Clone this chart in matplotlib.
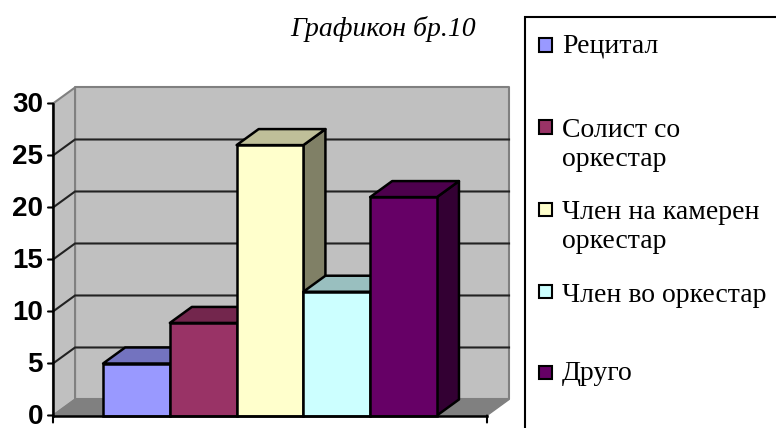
import matplotlib
matplotlib.use('Agg')
import matplotlib.pyplot as plt
from matplotlib.patches import Polygon, Rectangle

# Податоци од графиконот
naslov = 'Графикон бр.10'
kategorii = ['Рецитал', 'Солист со\nоркестар', 'Член на камерен\nоркестар', 'Член во оркестар', 'Друго']
vrednosti = [5, 8.9, 26, 11.9, 21]
y_tikovi = [0, 5, 10, 15, 20, 25, 30]
boi = ['#9999FF', '#993366', '#FFFFCC', '#CCFFFF', '#660066']
boi_gore = ['#7373BF', '#73264D', '#BFBF99', '#99BFBF', '#4D004D']
boi_strana = ['#4D4D80', '#4D1A33', '#808066', '#668080', '#330033']

W, H = 776, 428
fig = plt.figure(figsize=(W / 100, H / 100), dpi=100)
ax = fig.add_axes([53 / W, (H - 415.5) / H, 434 / W, 312 / H])
ax.set_xlim(-1.25, 5.25)
ax.set_ylim(0, 30)
ax.axis('off')

# dlabocina na 3D izgledot vo edinici na oskite
dx, dy = 0.33, 1.54
x0, x1 = ax.get_xlim()
y0, y1 = ax.get_ylim()


def poly(tocki, boja, rab='black', lw=1.8, z=2):
    ax.add_patch(Polygon(tocki, closed=True, facecolor=boja, edgecolor=rab, linewidth=lw,
                         zorder=z, clip_on=False, joinstyle='round'))


# zadni yidovi i pod
poly([(x0 + dx, y0 + dy), (x1 + dx, y0 + dy), (x1 + dx, y1 + dy), (x0 + dx, y1 + dy)], '#C0C0C0', '#808080', 1.5, 1)
poly([(x0, y0), (x0 + dx, y0 + dy), (x0 + dx, y1 + dy), (x0, y1)], '#C0C0C0', '#808080', 1.5, 1)
poly([(x0, y0), (x1, y0), (x1 + dx, y0 + dy), (x0 + dx, y0 + dy)], '#808080', '#808080', 1, 1)

# mreza
for t in y_tikovi[1:-1]:
    ax.plot([x0, x0 + dx, x1 + dx], [t, t + dy, t + dy], color='#222222', lw=1.5, zorder=1.5,
            clip_on=False, solid_joinstyle='miter')

# stolbovi, od levo kon desno
sirina = 1.0
for i, v in enumerate(vrednosti):
    l, r = i - sirina / 2, i + sirina / 2
    z = 3 + i
    poly([(r, 0), (r + dx, dy), (r + dx, v + dy), (r, v)], boi_strana[i], z=z)
    poly([(l, v), (r, v), (r + dx, v + dy), (l + dx, v + dy)], boi_gore[i], z=z)
    ax.bar(i, v, width=sirina, color=boi[i], edgecolor='black', linewidth=1.8, zorder=z, clip_on=False)

# oski
ax.plot([x0, x0], [y0, y1], color='black', lw=1.8, zorder=20, clip_on=False)
ax.plot([x0, x1], [y0, y0], color='black', lw=1.8, zorder=20, clip_on=False)
for t in y_tikovi:
    ax.annotate('', xy=(x0, t), xytext=(-5, 0), textcoords='offset pixels',
                arrowprops=dict(arrowstyle='-', color='black', lw=1.5, shrinkA=0, shrinkB=0), zorder=20)
    ax.annotate(str(t), xy=(x0, t), xytext=(-10, -1), textcoords='offset pixels', ha='right', va='center',
                fontsize=20, fontweight='bold', family='Liberation Sans', color='black')
for xt in [x0, x1]:
    ax.annotate('', xy=(xt, y0), xytext=(0, -7), textcoords='offset pixels',
                arrowprops=dict(arrowstyle='-', color='black', lw=1.5, shrinkA=0, shrinkB=0), zorder=20)

fig.text(383 / W, 1 - 29 / H, naslov, ha='center', va='center', fontsize=20, style='italic',
         family='Liberation Serif')

# legenda
fig.add_artist(Rectangle((525 / W, -0.02), 300 / W, 1 - 17 / H + 0.02, transform=fig.transFigure,
                         facecolor='white', edgecolor='black', linewidth=1.5))
sw_y = [45, 127, 209, 291, 372]
txt_y = [46, 145, 227, 295, 374]
for i, k in enumerate(kategorii):
    fig.add_artist(Rectangle((539 / W, 1 - (sw_y[i] + 6.5) / H), 13 / W, 13 / H, transform=fig.transFigure,
                             facecolor=boi[i], edgecolor='black', linewidth=1.5))
    fig.text(562 / W, 1 - txt_y[i] / H, k, ha='left', va='center', fontsize=20, family='Liberation Serif',
             linespacing=1.2)

fig.savefig('out.png', dpi=100)
